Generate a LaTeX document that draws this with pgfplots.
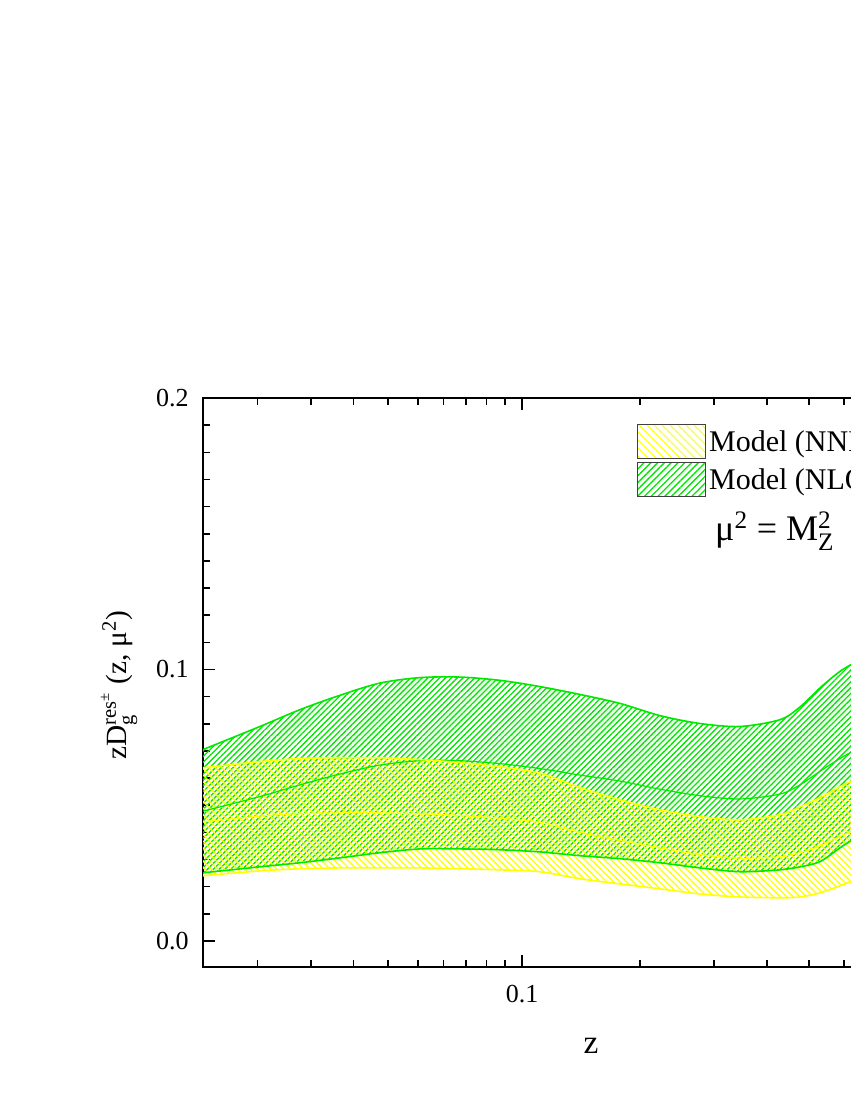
\documentclass[border=0pt]{standalone}
\usepackage{fontspec}
\setmainfont{Liberation Serif}
\usepackage{amsmath}
\usepackage{pgfplots}
\pgfplotsset{compat=1.18}
\usepackage{pgfplotstable}
\usepgfplotslibrary{fillbetween}
\usetikzlibrary{patterns.meta}
\definecolor{ygl}{RGB}{255,255,0}
\definecolor{grn}{RGB}{0,232,0}

% u = axis position of z on the chart's scale, log10(z+0.022)
\pgfplotstableread{
z       u       gup    glo    gmid   yup    ylo    ymid
0.00228 -1.6147 0.0705 0.0251 0.0478 0.0638 0.0240 0.0439
0.0104  -1.4895 0.0790 0.0273 0.0532 0.0661 0.0258 0.0460
0.0177  -1.4015 0.0852 0.0288 0.0575 0.0672 0.0266 0.0469
0.0266  -1.3136 0.0905 0.0306 0.0615 0.0675 0.0269 0.0472
0.0375  -1.2257 0.0950 0.0325 0.0648 0.0675 0.0269 0.0472
0.0508  -1.1378 0.0970 0.0339 0.0664 0.0668 0.0269 0.0468
0.0671  -1.0499 0.0972 0.0339 0.0664 0.0657 0.0266 0.0462
0.0871  -0.9620 0.0960 0.0336 0.0653 0.0642 0.0262 0.0452
0.1117  -0.8740 0.0937 0.0328 0.0635 0.0618 0.0255 0.0437
0.1416  -0.7861 0.0908 0.0314 0.0611 0.0565 0.0229 0.0400
0.1783  -0.6982 0.0875 0.0303 0.0589 0.0520 0.0210 0.0370
0.2233  -0.6103 0.0830 0.0288 0.0559 0.0483 0.0192 0.0343
0.2783  -0.5224 0.0801 0.0269 0.0535 0.0458 0.0173 0.0318
0.3457  -0.4345 0.0790 0.0255 0.0523 0.0446 0.0162 0.0305
0.4281  -0.3466 0.0815 0.0262 0.0541 0.0465 0.0159 0.0310
0.4761  -0.3026 0.0862 0.0273 0.0575 0.0494 0.0162 0.0325
0.5291  -0.2587 0.0932 0.0292 0.0625 0.0528 0.0177 0.0350
0.5878  -0.2147 0.0993 0.0343 0.0672 0.0568 0.0203 0.0385
0.6528  -0.1707 0.1037 0.0391 0.0714 0.0605 0.0232 0.0418
}\bands

\begin{document}
\begin{tikzpicture}
\begin{axis}[
  at={(152.25pt,-725.25pt)}, anchor=south west,
  width=554.25pt, height=426.75pt, scale only axis,
  xmin=-1.6147, xmax=0.0095,
  ymin=-0.0096, ymax=0.2,
  xtick={-0.9136}, xticklabels={0.1},
  minor xtick={-1.4949,-1.3768,-1.2840,-1.2076,-1.1427,-1.0862,-1.0362,-0.9914,-0.9508,-0.6536,-0.4921,-0.3747,-0.2823,-0.2062,-0.1415,-0.0851,-0.0353},
  ytick={0,0.1,0.2}, yticklabels={0.0,0.1,0.2},
  minor ytick={-0.01,0.01,0.02,0.03,0.04,0.05,0.06,0.07,0.08,0.09,0.11,0.12,0.13,0.14,0.15,0.16,0.17,0.18,0.19},
  tick align=inside,
  major tick length=9pt, minor tick length=5pt,
  every tick/.style={black, line width=1.2pt},
  axis line style={line width=1.6pt},
  tick label style={font=\fontsize{19.5}{22}\selectfont, inner sep=0pt},
  xticklabel style={anchor=base, yshift=-26.25pt},
  yticklabel style={anchor=east, xshift=-10.5pt},
  xlabel={z},
  xlabel style={at={(axis description cs:0.525,0)}, anchor=base, yshift=-64.5pt, font=\fontsize{25}{28}\selectfont},
  ylabel={zD$_{\text{g}}^{\text{res}^{\text{±}}}$ (z, μ$^{\text{2}}$)},
  ylabel style={at={(axis description cs:0,0.4956)}, anchor=center, yshift=63pt, font=\fontsize{22}{26}\selectfont},
  legend image code/.code={\draw[#1, line width=0.9pt] (0pt,-12.75pt) rectangle (51pt,12.75pt);},
  legend style={at={(0.5873,0.9543)}, anchor=north west, draw=none, fill=none, inner sep=0pt,
    row sep=2pt, font=\fontsize{22.5}{26}\selectfont, cells={anchor=west}},
]
\addlegendimage{pattern={Lines[angle=-45,distance=4pt,line width=1pt]}, pattern color=ygl, draw=black!75}
\addlegendentry{Model (NNLO)}
\addlegendimage{pattern={Lines[angle=45,distance=3.6pt,line width=1pt]}, pattern color=grn, draw=black!75}
\addlegendentry{Model (NLO)}

% green band (NLO)
\addplot[name path=gu, grn, line width=1.2pt, smooth, forget plot] table[x=u,y=gup]{\bands};
\addplot[name path=gl, grn, line width=1.2pt, smooth, forget plot] table[x=u,y=glo]{\bands};
\addplot[pattern={Lines[angle=45,distance=3.1pt,line width=1pt]}, pattern color=grn, forget plot] fill between[of=gu and gl];
\addplot[grn, line width=0.9pt, smooth, forget plot] table[x=u,y=gmid]{\bands};

% yellow band (NNLO)
\addplot[name path=yu, ygl, line width=1.2pt, smooth, forget plot] table[x=u,y=yup]{\bands};
\addplot[name path=yl, ygl, line width=1.2pt, smooth, forget plot] table[x=u,y=ylo]{\bands};
\addplot[pattern={Lines[angle=-45,distance=3.5pt,line width=1pt]}, pattern color=ygl, forget plot] fill between[of=yu and yl];
\addplot[ygl, line width=0.9pt, smooth, forget plot] table[x=u,y=ymid]{\bands};

\node[anchor=base west, font=\fontsize{27}{30}\selectfont, inner sep=0pt] at (axis description cs:0.6928,0.7487) {μ$^{\text{2}}$ = M$_{\text{Z}}^{\text{2}}$};
\end{axis}
\pgfresetboundingbox
\path[use as bounding box] (0pt,0pt) rectangle (637.5pt,-825pt);
\end{tikzpicture}
\end{document}
